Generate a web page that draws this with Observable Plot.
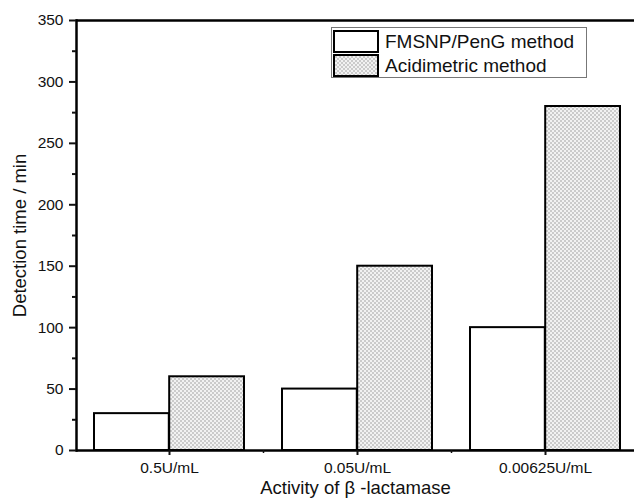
<!DOCTYPE html>
<html>
<head>
<meta charset="utf-8">
<script src="https://cdn.jsdelivr.net/npm/d3@7"></script>
<script src="https://cdn.jsdelivr.net/npm/@observablehq/plot@0.6"></script>
<style>
  body { margin: 0; background: #fff; }
  #wrap { position: relative; width: 634px; height: 499px; font-family: "Liberation Sans", Arial, sans-serif; }
  #legend { position: absolute; left: 331px; top: 27px; width: 256px; height: 51px; border: 1px solid #777; background: #fff; box-sizing: border-box; }
  .row { position: absolute; left: 1px; display: flex; align-items: center; }
  .row span { font-size: 19px; color: #111; margin-left: 6px; line-height: 22px; }
  g[aria-label="y-axis label"] text, g[aria-label="x-axis label"] text { font-size: 18.5px; }
</style>
</head>
<body>
<div id="wrap"></div>
<script>
const categories = ["0.5U/mL", "0.05U/mL", "0.00625U/mL"];
const fmsnp = [30, 50, 100];
const acidimetric = [60, 150, 280];
const seriesNames = ["FMSNP/PenG method", "Acidimetric method"];
const yTicks = [0, 50, 100, 150, 200, 250, 300, 350];
const yMinor = [25, 75, 125, 175, 225, 275, 325];

const dataF = categories.map((c, i) => ({cat: c, value: fmsnp[i]}));
const dataA = categories.map((c, i) => ({cat: c, value: acidimetric[i]}));

const xRange = [75, 639];
const step = (xRange[1] - xRange[0]) / categories.length;
const bw = step * 0.8;
const half = bw / 2;

const plot = Plot.plot({
  width: 634,
  height: 499,
  marginLeft: 76,
  marginRight: 0,
  marginTop: 20,
  marginBottom: 49,
  style: {fontFamily: "'Liberation Sans', Arial, sans-serif", fontSize: "15.5px", color: "#111", background: "white"},
  x: {domain: categories, range: xRange, paddingInner: 0.2, paddingOuter: 0.1, axis: null},
  y: {domain: [0, 350], axis: null},
  marks: [
    Plot.barY(dataF, {x: "cat", y: "value", fill: "white", stroke: "black", strokeWidth: 2, insetRight: half}),
    Plot.barY(dataA, {x: "cat", y: "value", fill: "url(#dots)", stroke: "black", strokeWidth: 2, insetLeft: half}),
    Plot.ruleY([0, 350], {stroke: "black", strokeWidth: 2.5}),
    Plot.frame({anchor: "left", stroke: "black", strokeWidth: 2.5}),
    Plot.axisY({ticks: yTicks, tickSize: 7, tickPadding: 6, strokeWidth: 2, fontSize: 15.5,
      label: "Detection time / min", labelAnchor: "center", labelOffset: 64, labelArrow: "none"}),
    Plot.axisY({ticks: yMinor, tickSize: 4, strokeWidth: 2, tickFormat: () => "", label: null}),
    Plot.axisX({ticks: categories, tickSize: 5, tickPadding: 6, strokeWidth: 2, fontSize: 15.5,
      label: "Activity of β -lactamase", labelAnchor: "center", labelOffset: 43, labelArrow: "none"}),
    Plot.axisX({ticks: categories.slice(0, 2), tickSize: 3, strokeWidth: 1.5, dx: step / 2, tickFormat: () => "", label: null})
  ]
});

const patternDef = (id) => `<defs><pattern id="${id}" width="4" height="4" patternUnits="userSpaceOnUse">
  <rect width="4" height="4" fill="#f2f2f2"/>
  <circle cx="1" cy="1" r="0.8" fill="#9a9a9a"/>
  <circle cx="3" cy="3" r="0.8" fill="#9a9a9a"/>
</pattern></defs>`;
plot.insertAdjacentHTML("afterbegin", patternDef("dots"));
const wrap = document.getElementById("wrap");
wrap.appendChild(plot);

const legend = document.createElement("div");
legend.id = "legend";
const fills = ["white", "url(#dotsL)"];
legend.innerHTML = seriesNames.map((name, i) => `
  <div class="row" style="top:${i === 0 ? 2 : 26}px">
    <svg width="46" height="23">${i === 1 ? patternDef("dotsL") : ""}<rect x="1" y="1" width="44" height="21" fill="${fills[i]}" stroke="black" stroke-width="2"/></svg>
    <span>${name}</span>
  </div>`).join("");
wrap.appendChild(legend);
</script>
</body>
</html>
